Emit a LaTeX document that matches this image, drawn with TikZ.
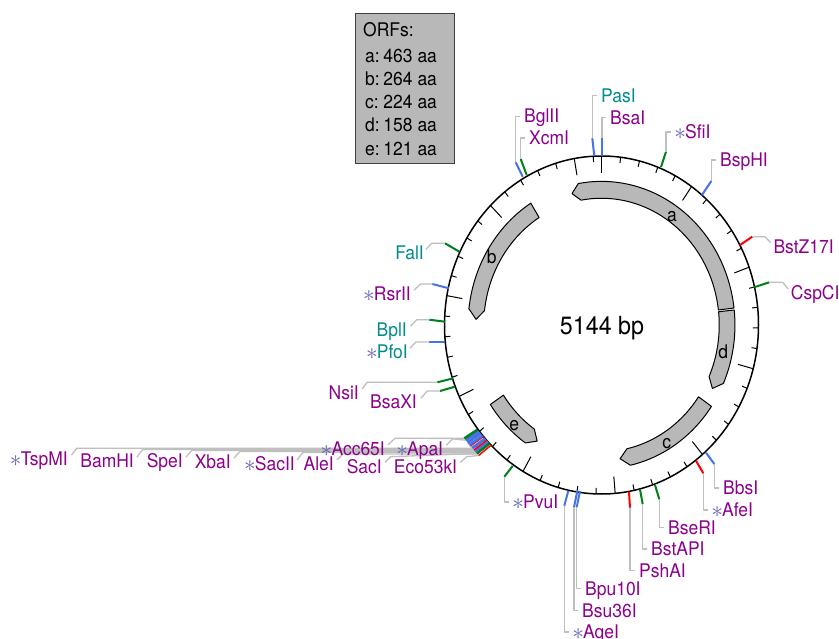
\documentclass[tikz,border=0pt]{standalone}
\usepackage{fontspec}
\setmainfont[FakeStretch=0.93]{TeX Gyre Heros}
\definecolor{mapPurple}{rgb}{0.55,0.00,0.55}
\definecolor{mapTeal}{rgb}{0.00,0.55,0.55}
\definecolor{mapBlue}{rgb}{0.27,0.45,0.90}
\definecolor{mapGreen}{rgb}{0.00,0.50,0.10}
\definecolor{mapRed}{rgb}{1.00,0.00,0.00}
\definecolor{mapGray}{rgb}{0.72,0.72,0.72}
\definecolor{mapWire}{rgb}{0.75,0.75,0.75}
\definecolor{mapStar}{rgb}{0.38,0.38,0.70}
\newcommand{\strk}{\makebox[10pt]{\textcolor{mapStar}{\raisebox{-0.6pt}{\scalebox{1.35}{$\ast$}}}}}
\begin{document}
\begin{tikzpicture}[x=1pt, y=-1pt,
  rim/.style={line width=1.5pt, black},
  tick/.style={line width=1pt, black},
  orf/.style={draw=black, line width=1pt, fill=mapGray, line join=round},
  leader/.style={line width=1.3pt, mapWire, line join=round},
  siteblue/.style={line width=2pt, mapBlue},
  sitegreen/.style={line width=2pt, mapGreen},
  sitered/.style={line width=2pt, mapRed},
  label/.style={font=\fontsize{18.8}{20}\selectfont, inner xsep=4pt, inner ysep=0pt, text height=13.4pt, text depth=0pt},
  enz/.style={label, text=mapPurple},
  enzteal/.style={label, text=mapTeal},
  orftext/.style={label, text=black, inner xsep=0pt, anchor=west},
  orfname/.style={label, text=black, inner xsep=0pt}]
\useasboundingbox (0,0) rectangle (839,639);
% ORF table
\node[draw=black!75, line width=1pt, fill=mapGray, minimum width=99.3pt, minimum height=150pt, anchor=north west] (orfs) at (355,13) {};
\node[orftext] (orftitle) at (363,29.5) {ORFs:};
\node[orftext] (orfrowa) at (365,55.7) {\makebox[18.3pt][l]{a:}463 aa};
\node[orftext] (orfrowb) at (365,79) {\makebox[18.3pt][l]{b:}264 aa};
\node[orftext] (orfrowc) at (365,102) {\makebox[18.3pt][l]{c:}224 aa};
\node[orftext] (orfrowd) at (365,125.3) {\makebox[18.3pt][l]{d:}158 aa};
\node[orftext] (orfrowe) at (365,148.7) {\makebox[18.3pt][l]{e:}121 aa};
% backbone
\begin{scope}[shift={(601.5,325)}, x=157pt, y=-169pt]
\draw[tick] (-90:1) -- (-90:0.90);
\draw[tick] (-83:1) -- (-83:0.965);
\draw[tick] (-76:1) -- (-76:0.965);
\draw[tick] (-69:1) -- (-69:0.965);
\draw[tick] (-62:1) -- (-62:0.965);
\draw[tick] (-55:1) -- (-55:0.90);
\draw[tick] (-48:1) -- (-48:0.965);
\draw[tick] (-41:1) -- (-41:0.965);
\draw[tick] (-34:1) -- (-34:0.965);
\draw[tick] (-27:1) -- (-27:0.965);
\draw[tick] (-20:1) -- (-20:0.90);
\draw[tick] (-13:1) -- (-13:0.965);
\draw[tick] (-6:1) -- (-6:0.965);
\draw[tick] (1:1) -- (1:0.965);
\draw[tick] (8:1) -- (8:0.965);
\draw[tick] (15:1) -- (15:0.90);
\draw[tick] (22:1) -- (22:0.965);
\draw[tick] (29:1) -- (29:0.965);
\draw[tick] (36:1) -- (36:0.965);
\draw[tick] (43:1) -- (43:0.965);
\draw[tick] (50:1) -- (50:0.90);
\draw[tick] (57:1) -- (57:0.965);
\draw[tick] (64:1) -- (64:0.965);
\draw[tick] (71:1) -- (71:0.965);
\draw[tick] (78:1) -- (78:0.965);
\draw[tick] (85:1) -- (85:0.90);
\draw[tick] (92:1) -- (92:0.965);
\draw[tick] (99:1) -- (99:0.965);
\draw[tick] (106:1) -- (106:0.965);
\draw[tick] (113:1) -- (113:0.965);
\draw[tick] (120:1) -- (120:0.90);
\draw[tick] (127:1) -- (127:0.965);
\draw[tick] (134:1) -- (134:0.965);
\draw[tick] (141:1) -- (141:0.965);
\draw[tick] (148:1) -- (148:0.965);
\draw[tick] (155:1) -- (155:0.90);
\draw[tick] (162:1) -- (162:0.965);
\draw[tick] (169:1) -- (169:0.965);
\draw[tick] (176:1) -- (176:0.965);
\draw[tick] (183:1) -- (183:0.965);
\draw[tick] (190:1) -- (190:0.90);
\draw[tick] (197:1) -- (197:0.965);
\draw[tick] (204:1) -- (204:0.965);
\draw[tick] (211:1) -- (211:0.965);
\draw[tick] (218:1) -- (218:0.965);
\draw[tick] (225:1) -- (225:0.90);
\draw[tick] (232:1) -- (232:0.965);
\draw[tick] (239:1) -- (239:0.965);
\draw[tick] (246:1) -- (246:0.965);
\draw[tick] (253:1) -- (253:0.965);
\draw[tick] (260:1) -- (260:0.90);
\draw[tick] (267:1) -- (267:0.965);
\draw[rim] (0,0) ellipse [x radius=157pt, y radius=169pt];
% reading frames
\draw[orf] plot[domain=-6.8:-100, samples=40] (\x:0.85) -- (-103.6:0.80) -- plot[domain=-100:-6.8, samples=40] (\x:0.75) -- cycle;
\draw[orf] plot[domain=-122:-173.5, samples=30] (\x:0.85) -- (-177.6:0.80) -- plot[domain=-173.5:-122, samples=30] (\x:0.75) -- cycle;
\draw[orf] plot[domain=34.5:77.5, samples=30] (\x:0.85) -- (81.5:0.80) -- plot[domain=77.5:34.5, samples=30] (\x:0.75) -- cycle;
\draw[orf] plot[domain=-6:24, samples=20] (\x:0.85) -- (28:0.80) -- plot[domain=24:-6, samples=20] (\x:0.75) -- cycle;
\draw[orf] plot[domain=146.4:124.8, samples=20] (\x:0.85) -- (120.8:0.80) -- plot[domain=124.8:146.4, samples=20] (\x:0.75) -- cycle;
\end{scope}
\node[orfname] (orfa) at (672,215) {a};
\node[orfname] (orfb) at (491.7,256.7) {b};
\node[orfname] (orfc) at (666.7,441.7) {c};
\node[orfname] (orfd) at (723.3,352.3) {d};
\node[orfname] (orfe) at (514.3,424.3) {e};
\node[font=\fontsize{25}{27}\selectfont, inner sep=0pt] (size) at (602,328) {5144 bp};
% top and right
\node[enzteal, anchor=west] (PasI) at (597,95.5) {PasI};
\draw[siteblue] (594.3,156) -- (592.3,138.3) coordinate (PasIa);
\draw[leader] (PasI.west) -| (PasIa);
\node[enz, anchor=west] (BsaI) at (606,117.7) {BsaI};
\draw[siteblue] (602,156) -- (602,138) coordinate (BsaIa);
\draw[leader] (BsaI.west) -| (BsaIa);
\node[enz, anchor=west] (SfiI) at (671,132) {\strk SfiI};
\draw[sitegreen] (661,167) -- (666,151.7) coordinate (SfiIa);
\draw[leader] (SfiI.west) -| (SfiIa);
\node[enz, anchor=west] (BspHI) at (716,160) {BspHI};
\draw[siteblue] (702,195) -- (711.3,181) coordinate (BspHIa);
\draw[leader] (BspHI.west) -| (BspHIa);
\node[enz, anchor=west] (BstZ17I) at (769.3,246.7) {BstZ17I};
\draw[sitered] (740,245) -- (752.3,236.7) coordinate (BstZ17Ia);
\draw[leader] (BstZ17I.north west) ++(1.5,3) -- (765,236.7) -- (BstZ17Ia);
\node[enz, anchor=west] (CspCI) at (786.7,293) {CspCI};
\draw[sitegreen] (754,287.3) -- (769.3,282.3) coordinate (CspCIa);
\draw[leader] (CspCI.north west) ++(1.5,3) -- (782.7,282.3) -- (CspCIa);
\node[enz, anchor=west] (BglII) at (520,116.3) {BglII};
\draw[siteblue] (522.7,176.7) -- (515.7,162.3) coordinate (BglIIa);
\draw[leader] (BglII.west) -| (BglIIa);
\node[enz, anchor=west] (XcmI) at (525,138) {XcmI};
\draw[sitegreen] (526.7,175) -- (520.7,159) coordinate (XcmIa);
\draw[leader] (XcmI.west) -| (XcmIa);
% left
\node[enzteal, anchor=east] (FalI) at (428,253.3) {FalI};
\draw[sitegreen] (459.3,251.7) -- (445,243.3) coordinate (FalIa);
\draw[leader] (FalI.north east) ++(-2,3) -- (431.7,243.3) -- (FalIa);
\node[enz, anchor=east] (RsrII) at (415,294) {\strk RsrII};
\draw[siteblue] (449,288.3) -- (432.3,284) coordinate (RsrIIa);
\draw[leader] (RsrII.north east) ++(-1,3) -- (420.7,284) -- (RsrIIa);
\node[enzteal, anchor=east] (BplI) at (411,330) {BplI};
\draw[sitegreen] (445,321.7) -- (429.3,319.7) coordinate (BplIa);
\draw[leader] (BplI.north east) ++(-0.5,3) -- (416.7,319.7) -- (BplIa);
\node[enzteal, anchor=east] (PfoI) at (412,352) {\strk PfoI};
\draw[siteblue] (445.3,342) -- (429.3,342) coordinate (PfoIa);
\draw[leader] (PfoI.north east) ++(-2,3) -- (416,342) -- (PfoIa);
\node[enz, anchor=east] (NsiI) at (363,393) {NsiI};
\draw[sitegreen] (453.3,378.3) -- (437.3,382.3) coordinate (NsiIa);
\draw[leader] (NsiI.north east) ++(-1,3) -- (367.3,382.3) -- (NsiIa);
\node[enz, anchor=east] (BsaXI) at (421,402) {BsaXI};
\draw[sitegreen] (455,386.7) -- (440,391) coordinate (BsaXIa);
\draw[leader] (BsaXI.north east) ++(0,3) -- (427.3,391) -- (BsaXIa);
% bottom
\node[enz, anchor=west] (PvuI) at (509,502) {\strk PvuI};
\draw[sitegreen] (512.7,466) -- (504.3,476.7) coordinate (PvuIa);
\draw[leader] (PvuI.west) -| (PvuIa);
\node[enz, anchor=west] (AgeI) at (569,632) {\strk AgeI};
\draw[siteblue] (568.3,490.7) -- (564.3,505.7) coordinate (AgeIa);
\draw[leader] (AgeI.west) -| (AgeIa);
\node[enz, anchor=west] (Bsu36I) at (578,610.7) {Bsu36I};
\draw[siteblue] (577.3,491) -- (574,507.3) coordinate (Bsu36Ia);
\draw[leader] (Bsu36I.west) -| (Bsu36Ia);
\node[enz, anchor=west] (Bpu10I) at (581,588.3) {Bpu10I};
\draw[siteblue] (580,491) -- (576.7,507.3) coordinate (Bpu10Ia);
\draw[leader] (Bpu10I.west) -| (Bpu10Ia);
\node[enz, anchor=west] (PshAI) at (635,570.7) {PshAI};
\draw[sitered] (629,491.7) -- (630,507.7) coordinate (PshAIa);
\draw[leader] (PshAI.west) -| (PshAIa);
\node[enz, anchor=west] (BstAPI) at (647,549) {BstAPI};
\draw[sitegreen] (640,489.3) -- (642.7,504.3) coordinate (BstAPIa);
\draw[leader] (BstAPI.west) -| (BstAPIa);
\node[enz, anchor=west] (BseRI) at (664,527.3) {BseRI};
\draw[sitegreen] (655,485) -- (659.3,499.3) coordinate (BseRIa);
\draw[leader] (BseRI.west) -| (BseRIa);
\node[enz, anchor=west] (AfeI) at (708,510) {\strk AfeI};
\draw[sitered] (696,460.7) -- (703.3,473.3) coordinate (AfeIa);
\draw[leader] (AfeI.west) -| (AfeIa);
\node[enz, anchor=west] (BbsI) at (719,488) {BbsI};
\draw[siteblue] (706,452.7) -- (714.3,464) coordinate (BbsIa);
\draw[leader] (BbsI.west) -| (BbsIa);
% crowded stretch
\coordinate (Acc65Ia) at (464.3,438.4);
\coordinate (ApaIa) at (465.8,440.2);
\coordinate (TspMIa) at (467.6,442.7);
\coordinate (BamHIa) at (469.7,445);
\coordinate (SpeIa) at (470.8,446.2);
\coordinate (XbaIa) at (472.4,448.1);
\coordinate (SacIIa) at (474.2,450.2);
\coordinate (AleIa) at (475.4,451.7);
\coordinate (SacIa) at (476.9,453.5);
\coordinate (Eco53kIa) at (478.6,455.5);
\node[enz, anchor=east] (TspMI) at (72,459) {\strk TspMI};
\node[enz, anchor=east] (BamHI) at (138,461) {BamHI};
\node[enz, anchor=east] (SpeI) at (187,461) {SpeI};
\node[enz, anchor=east] (XbaI) at (235,462) {XbaI};
\node[enz, anchor=east] (SacII) at (299,464) {\strk SacII};
\node[enz, anchor=east] (AleI) at (338,463.7) {AleI};
\node[enz, anchor=east] (SacI) at (386,466.3) {SacI};
\node[enz, anchor=east] (Eco53kI) at (461.3,466.3) {Eco53kI};
\draw[leader] (TspMI.north east) ++(-0.5,3) -- (76.7,448.3) -- (472.6,448.3) -- (TspMIa);
\draw[leader] (BamHI.north east) ++(-1,3) -- (142.7,449.4) -- (473.5,449.4) -- (BamHIa);
\draw[leader] (SpeI.north east) ++(-1,3) -- (191.7,450.4) -- (474.3,450.4) -- (SpeIa);
\draw[leader] (XbaI.north east) ++(-1,3) -- (240,451.4) -- (475.2,451.4) -- (XbaIa);
\draw[leader] (SacII.north east) ++(-2,3) -- (302.7,452.5) -- (476.1,452.5) -- (SacIIa);
\draw[leader] (AleI.north east) ++(-1,3) -- (343,454) -- (477,454) -- (AleIa);
\draw[leader] (SacI.north east) ++(-1,3) -- (390.7,456.7) -- (SacIa);
\draw[leader] (Eco53kI.north east) ++(-1,3) -- (466.7,456.7) -- (Eco53kIa);
\node[enz, anchor=east] (Acc65I) at (389,448.7) {\strk Acc65I};
\node[enz, anchor=east] (ApaI) at (447.3,449) {\strk ApaI};
\draw[leader] (Acc65I.north east) ++(-1,3) -- (395,438.3) -- (Acc65Ia);
\draw[leader] (ApaI.north east) ++(-1,3) -- (452.7,438.8) -- (ApaIa);
\draw[siteblue, line width=3pt] (ApaIa) -- (478.8,431.4);
\draw[siteblue, line width=3pt] (TspMIa) -- (480.5,433.2);
\draw[siteblue, line width=3pt] (BamHIa) -- (482.6,435.6);
\draw[sitered, line width=0.7pt] (SpeIa) -- (483.7,436.8);
\draw[siteblue, line width=3pt] (XbaIa) -- (485.3,438.6);
\draw[sitered] (SacIIa) -- (487,440.4);
\draw[siteblue, line width=2.5pt] (AleIa) -- (488.2,441.6);
\draw[sitegreen, line width=2.5pt] (SacIa) -- (489.6,443.4);
\draw[sitered, line width=1.5pt] (Eco53kIa) -- (491.3,445);
\draw[sitegreen, line width=2.5pt] (Acc65Ia) -- (477.3,429.8);
\end{tikzpicture}
\end{document}
